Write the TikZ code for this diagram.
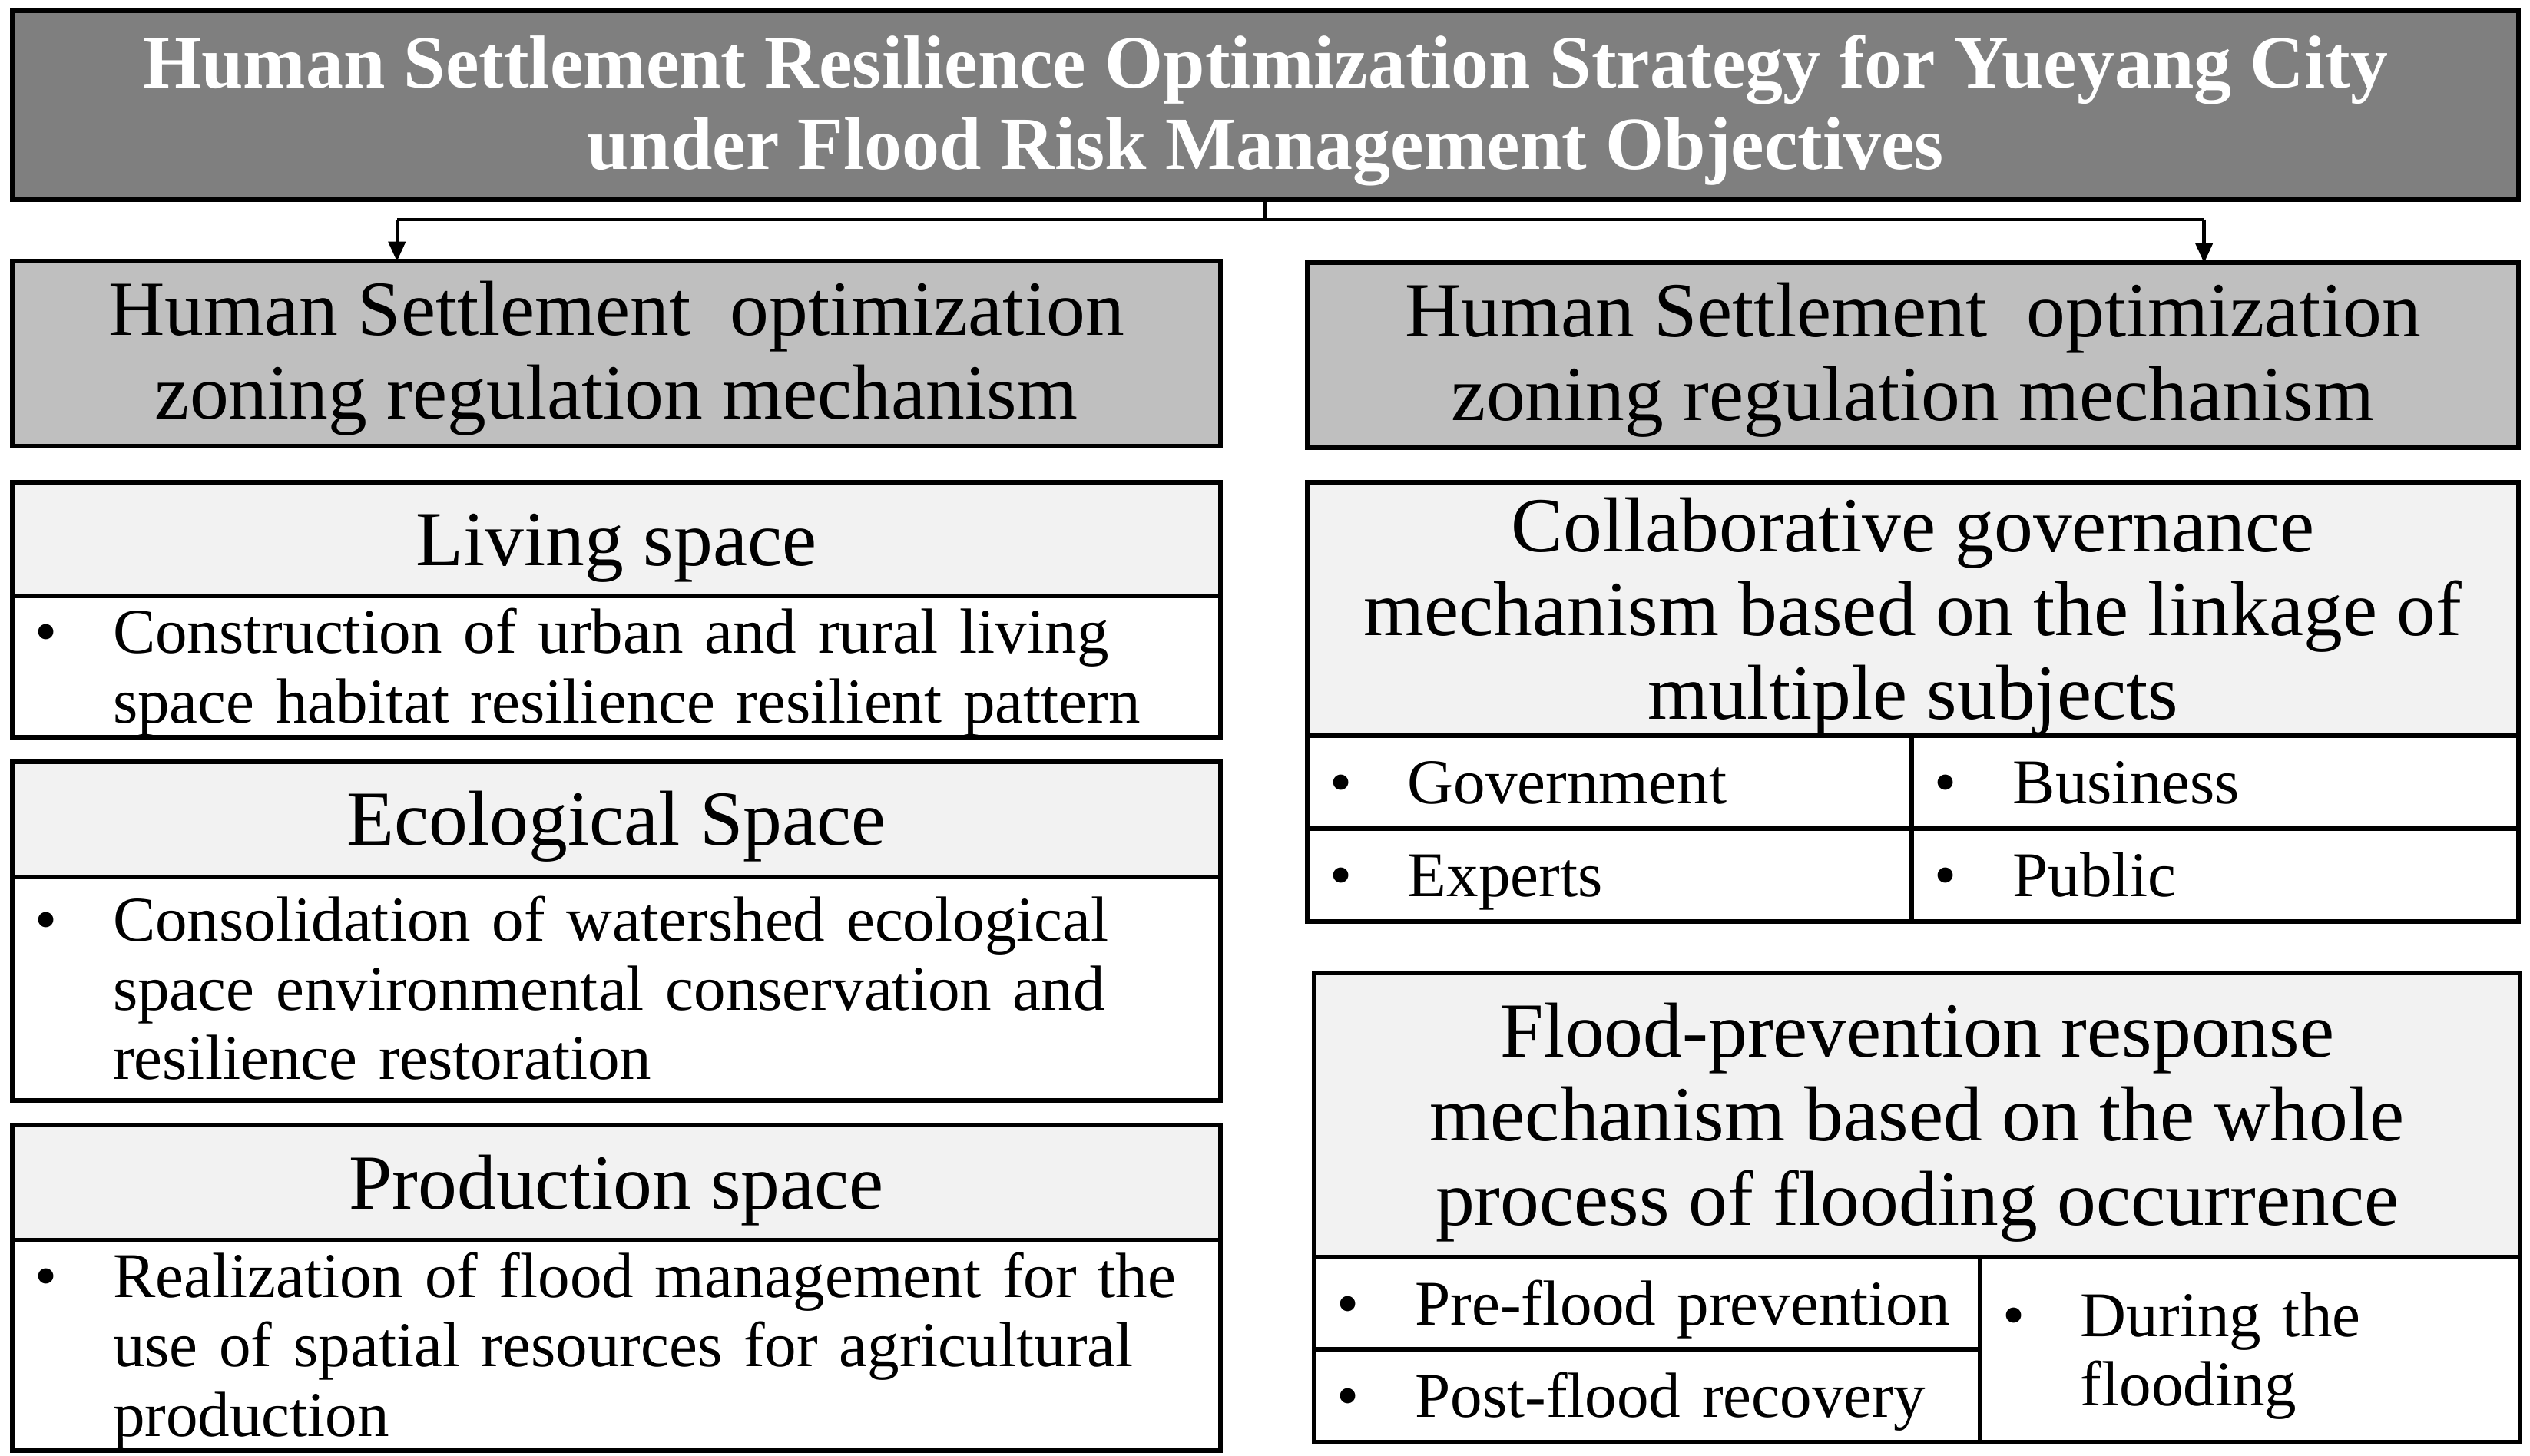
\documentclass[tikz,border=0pt]{standalone}
\usepackage{fontspec}
\setmainfont{Liberation Serif}
\usetikzlibrary{arrows.meta}

\definecolor{titlegray}{HTML}{7F7F7F}
\definecolor{headgray}{HTML}{BFBFBF}
\definecolor{tabgray}{HTML}{F2F2F2}

\newcommand{\tstrut}[1]{\rule{0pt}{#1}}
\newcommand{\bitem}[2]{\makebox[1.25cm][l]{\hspace{0.28cm}\textbullet}\parbox[t]{#1}{\rule{0pt}{20.3pt}#2\rule[-5pt]{0pt}{0pt}}}

\begin{document}
\begin{tikzpicture}[x=0.2mm, y=-0.2mm,
    box/.style={draw=black, line width=1.6pt, rectangle, anchor=north west, inner sep=0pt, outer sep=0pt},
    titlebox/.style={box, fill=titlegray, text=white, align=center, font=\fontsize{26.5}{28.5}\selectfont\bfseries},
    headbox/.style={box, fill=headgray, align=center, font=\fontsize{27.5}{29.6}\selectfont},
    tabbox/.style={box, fill=tabgray, align=center, font=\fontsize{27.5}{29.6}\selectfont},
    itembox/.style={box, fill=white, align=left, font=\fontsize{22.5}{24.5}\selectfont},
    conn/.style={line width=1.2pt},
    tip/.style={conn, -{Triangle[length=7pt, width=6pt]}}]
    \useasboundingbox (0,0) rectangle (1568,902.5);

    \coordinate (lj) at (246,136);
    \coordinate (rj) at (1366,136);

    % top and the two headers
    \node[titlebox, minimum width=31.07cm, minimum height=2.34cm] (title) at (7.5,6.6)
        {\tstrut{22.5pt}Human Settlement Resilience Optimization Strategy for Yueyang City\\under Flood Risk Management Objectives};
    \node[headbox, minimum width=14.98cm, minimum height=2.29cm] (lhead) at (7.5,162)
        {\tstrut{22.2pt}Human Settlement\ \ optimization\\zoning regulation mechanism};
    \node[headbox, minimum width=15.02cm, minimum height=2.29cm] (rhead) at (810,163)
        {\tstrut{22.2pt}Human Settlement\ \ optimization\\zoning regulation mechanism};

    \draw[conn] (title.south) -- (title.south |- lj);
    \draw[conn] (lj) -- (rj);
    \draw[tip] (lj) -- (lj |- lhead.north);
    \draw[tip] (rj) -- (rj |- rhead.north);

    % left column
    \node[tabbox, minimum width=14.98cm, minimum height=1.41cm] (living) at (7.5,298.8) {\tstrut{24.5pt}Living space};
    \node[itembox, text width=14.98cm, minimum height=1.72cm] (livingtxt) at (living.south west)
        {\bitem{13.6cm}{Construction of urban and rural living\\space habitat resilience resilient pattern}};

    \node[tabbox, minimum width=14.98cm, minimum height=1.43cm] (eco) at (7.5,472) {\tstrut{24.5pt}Ecological Space};
    \node[itembox, text width=14.98cm, minimum height=2.77cm] (ecotxt) at (eco.south west)
        {\bitem{13.6cm}{Consolidation of watershed ecological\\space environmental conservation and\\resilience restoration}};

    \node[tabbox, minimum width=14.98cm, minimum height=1.42cm] (prod) at (7.5,697.5) {\tstrut{24.5pt}Production space};
    \node[itembox, text width=14.98cm, minimum height=2.53cm] (prodtxt) at (prod.south west)
        {\bitem{13.6cm}{Realization of flood management for the\\use of spatial resources for agricultural\\production}};

    % right column
    \node[tabbox, minimum width=15.02cm, minimum height=3.14cm] (collab) at (810,298.8)
        {\tstrut{24.5pt}Collaborative governance\\mechanism based on the linkage of\\multiple subjects};
    \node[itembox, text width=7.5cm, minimum height=1.15cm] (gov) at (collab.south west) {\bitem{6cm}{Government}};
    \node[itembox, text width=7.52cm, minimum height=1.15cm] (bus) at (gov.north east) {\bitem{6cm}{Business}};
    \node[itembox, text width=7.5cm, minimum height=1.15cm] (exp) at (gov.south west) {\bitem{6cm}{Experts}};
    \node[itembox, text width=7.52cm, minimum height=1.15cm] (pub) at (exp.north east) {\bitem{6cm}{Public}};

    \node[tabbox, minimum width=14.95cm, minimum height=3.52cm] (flood) at (814.5,603)
        {\tstrut{24.5pt}Flood-prevention response\\mechanism based on the whole\\process of flooding occurrence};
    \node[itembox, text width=8.25cm, minimum height=1.15cm] (pre) at (flood.south west) {\bitem{6.8cm}{Pre-flood prevention}};
    \node[itembox, text width=8.25cm, minimum height=1.15cm] (post) at (pre.south west) {\bitem{6.8cm}{Post-flood recovery}};
    \node[itembox, text width=6.7cm, minimum height=2.3cm] (during) at (pre.north east) {\bitem{5.2cm}{During the\\flooding}};
\end{tikzpicture}
\end{document}
